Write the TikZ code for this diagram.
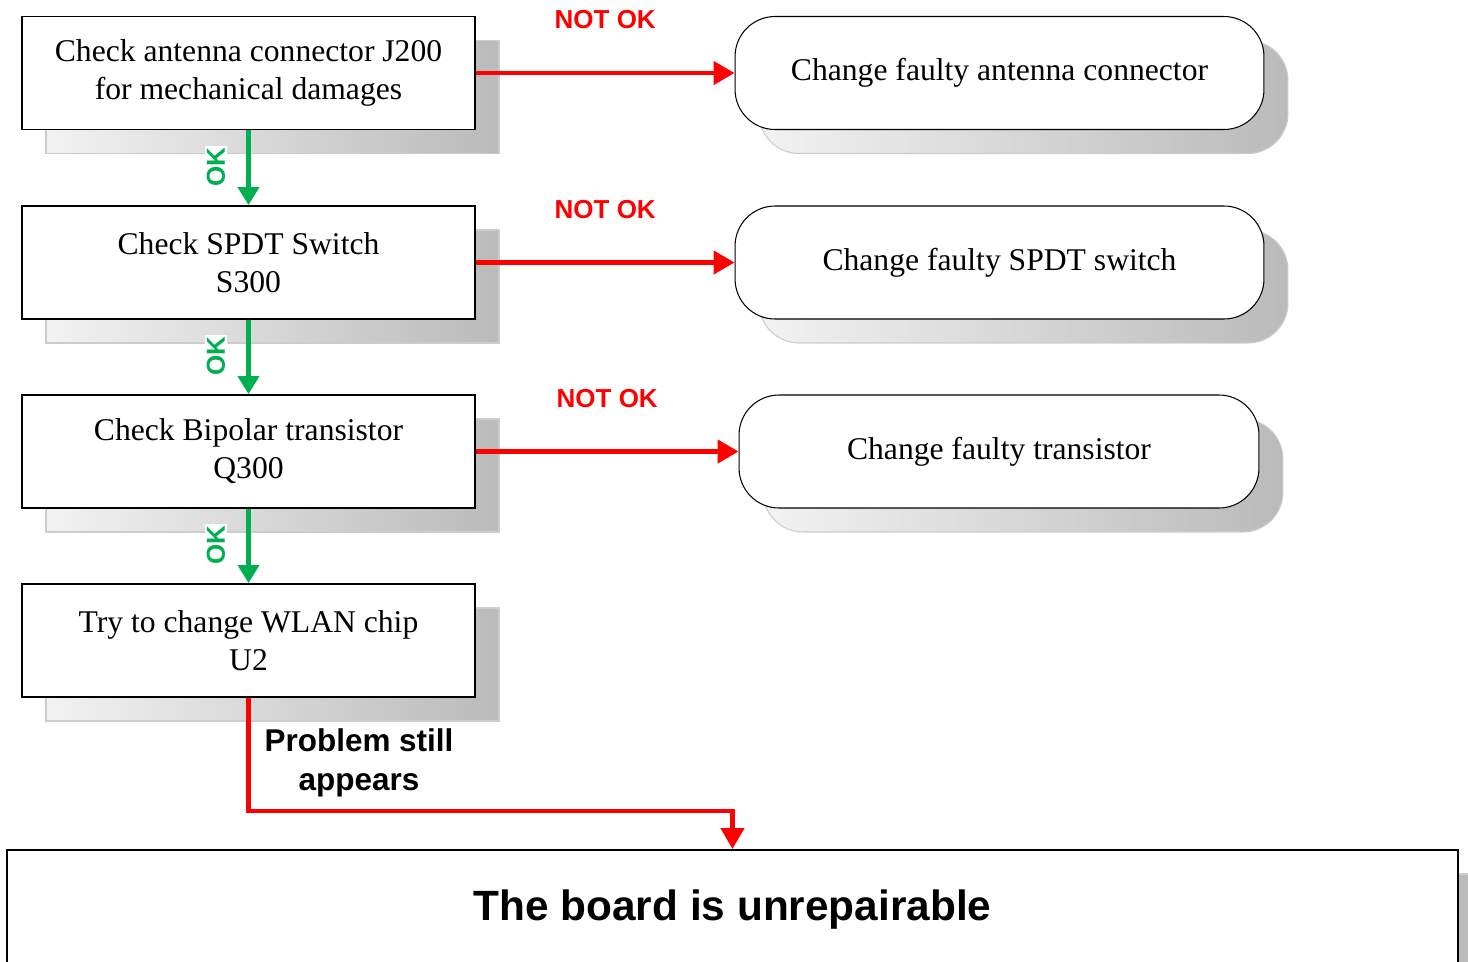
\documentclass[tikz,border=0pt]{standalone}
\usepackage{fontspec}
\setmainfont{Liberation Serif}
\setsansfont{Liberation Sans}
\usetikzlibrary{arrows.meta,shadows}
\definecolor{okgreen}{RGB}{0,176,80}
\definecolor{failred}{RGB}{255,0,0}
\begin{document}
\begin{tikzpicture}[x=0.02cm, y=-0.02cm,
    boxshadow/.style = {general shadow = {shadow xshift=0.48cm, shadow yshift=-0.48cm,
        left color=black!5, right color=black!27, draw=black!20}},
    check/.style = {boxshadow, draw, fill=white, line width=1.1pt, minimum width=9.06cm,
        minimum height=2.26cm, inner sep=0pt, align=center, font=\fontsize{18}{21.6}\selectfont},
    change/.style = {check, line width=0.6pt, rounded corners=0.8cm, minimum width=10.58cm},
    fail/.style = {failred, line width=2.6pt, -{Triangle[length=0.42cm, width=0.46cm]}},
    pass/.style = {okgreen, line width=2.3pt, -{Triangle[length=0.36cm, width=0.42cm]}},
    failtext/.style = {text=failred, font=\sffamily\bfseries\fontsize{14.8}{17}\selectfont},
    passtext/.style = {text=okgreen, fill=white, rotate=90, inner sep=1pt,
        font=\sffamily\bfseries\fontsize{14.8}{17}\selectfont}]
    \useasboundingbox (0,0) rectangle (1468,961);
    % checks on the left
    \node[check] (antenna) at (248.5,73) {Check antenna connector J200\\for mechanical damages};
    \node[check] (switch) at (248.5,262.5) {Check SPDT Switch\\S300};
    \node[check] (transistor) at (248.5,451.5) {Check Bipolar transistor\\Q300};
    \node[check] (chip) at (248.5,640.5) {Try to change WLAN chip\\U2};
    % repairs on the right
    \node[change] (newantenna) at (999.5,73) {Change faulty antenna connector};
    \node[change] (newswitch) at (999.5,262.5) {Change faulty SPDT switch};
    \node[change, minimum width=10.4cm] (newtransistor) at (999,451.5) {Change faulty transistor};
    % last box
    \node[check, anchor=north, minimum width=29.02cm, minimum height=2.4cm,
        font=\sffamily\bfseries\fontsize{24.1}{28}\selectfont] (final) at (732.5,849) {The board is unrepairable};
    \draw[fail] (antenna) -- (newantenna) node[pos=0.5, failtext, anchor=south, yshift=0.72cm] (nok1) {NOT OK};
    \draw[fail] (switch) -- (newswitch) node[pos=0.5, failtext, anchor=south, yshift=0.72cm] (nok2) {NOT OK};
    \draw[fail] (transistor) -- (newtransistor) node[pos=0.5, failtext, anchor=south, yshift=0.72cm] (nok3) {NOT OK};
    \draw[pass] (antenna) -- (switch);
    \draw[pass] (switch) -- (transistor);
    \draw[pass] (transistor) -- (chip);
    \node[passtext] (ok1) at (216,167) {OK};
    \node[passtext] (ok2) at (216,356) {OK};
    \node[passtext] (ok3) at (216,545) {OK};
    \draw[fail] (chip.south) -- ++(0,113) -| (final.north);
    \node[align=center, font=\sffamily\bfseries\fontsize{17.9}{22}\selectfont] (still) at (359,763) {Problem still\\appears};
\end{tikzpicture}
\end{document}
